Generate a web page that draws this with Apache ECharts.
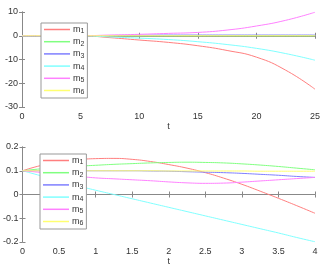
<!DOCTYPE html>
<html><head><meta charset="utf-8">
<script src="https://cdn.jsdelivr.net/npm/echarts@6/dist/echarts.min.js"></script>
<style>html,body{margin:0;padding:0;background:#fff}#c{width:329px;height:269px}</style>
</head><body><div id="c"></div>
<script>
const names = ['m1','m2','m3','m4','m5','m6'];
const colors = ['#ff7f7f','#80ff80','#7f7fff','#80ffff','#ff80ff','#ffff70'];

const tTop = [0,2.5,5,7.5,10,12.5,15,17.5,20,22.5,25];
const m1Top = [0,0,0,-0.8,-1.8,-2.8,-4.2,-6.2,-9,-14.5,-22.5];
const m2Top = [0,0,0,0,0,0,0,0,0,0,0];
const m3Top = [0,0,0,0.1,0.2,0.3,0.3,0.3,0.3,0.3,0.3];
const m4Top = [0,0,0,-0.5,-1.0,-1.6,-2.5,-3.7,-5.3,-7.5,-10.3];
const m5Top = [0,0,0,0.3,0.6,1.0,1.4,2.4,4.1,6.5,9.9];
const m6Top = [0,0,0,0,0,0,0,0,0,0,0];

const tBot = [0,0.25,0.5,0.75,1,1.25,1.5,1.75,2,2.25,2.5,2.75,3,3.25,3.5,3.75,4];
const m1Bot = [0.1,0.122,0.137,0.146,0.151,0.152,0.148,0.139,0.126,0.111,0.092,0.069,0.043,0.014,-0.016,-0.047,-0.079];
const m2Bot = [0.1,0.108,0.114,0.119,0.123,0.127,0.130,0.133,0.135,0.136,0.135,0.133,0.129,0.124,0.118,0.111,0.104];
const m3Bot = [0.1,0.1,0.1,0.1,0.1,0.1,0.1,0.099,0.098,0.096,0.094,0.092,0.089,0.085,0.081,0.076,0.072];
const m4Bot = [0.1,0.079,0.058,0.037,0.018,0.0,-0.018,-0.036,-0.054,-0.072,-0.090,-0.108,-0.126,-0.144,-0.162,-0.181,-0.199];
const m5Bot = [0.1,0.093,0.085,0.077,0.070,0.066,0.062,0.058,0.053,0.049,0.047,0.048,0.052,0.057,0.062,0.067,0.072];
const m6Bot = [0.1,0.1,0.1,0.1,0.1,0.1,0.1,0.1,0.099,0.099,0.099,0.099,0.099,0.098,0.098,0.098,0.098];

const topVals = [m1Top,m2Top,m3Top,m4Top,m5Top,m6Top];
const botVals = [m1Bot,m2Bot,m3Bot,m4Bot,m5Bot,m6Bot];

const FONT = 'Liberation Sans, Arial, sans-serif';
const lab = {color:'#333', fontSize:9, fontFamily:FONT};
const axLine = {show:true, lineStyle:{color:'#888', width:1}};
function xAx(gi, min, max, interval, pos){
  const main = pos==='bottom';
  return {type:'value', gridIndex:gi, position:pos, min:min, max:max, interval:interval,
    axisLine:axLine, axisTick:{show:true, inside:true, length:3, lineStyle:{color:'#888'}},
    axisLabel: main ? Object.assign({margin:5}, lab) : {show:false},
    splitLine:{show:false},
    name: main ? 't' : '', nameLocation:'middle', nameGap:15, nameTextStyle: lab};
}
function yAx(gi, min, max, interval, pos){
  const main = pos==='left';
  return {type:'value', gridIndex:gi, position:pos, min:min, max:max, interval:interval,
    axisLine:axLine, axisTick:{show:true, inside:true, length:3, lineStyle:{color:'#888'}},
    axisLabel: main ? Object.assign({margin:4}, lab) : {show:false},
    splitLine:{show:false}};
}
const series = [];
names.forEach((n,i)=>{
  series.push({name:n, type:'line', xAxisIndex:0, yAxisIndex:0, symbol:'none', smooth:true,
    data: tTop.map((t,k)=>[t, topVals[i][k]]), lineStyle:{width:1, color:colors[i]}, itemStyle:{color:colors[i]}});
});
names.forEach((n,i)=>{
  series.push({name:n, type:'line', xAxisIndex:2, yAxisIndex:2, symbol:'none', smooth:true,
    data: tBot.map((t,k)=>[t, botVals[i][k]]), lineStyle:{width:1, color:colors[i]}, itemStyle:{color:colors[i]}});
});
function legend(left, top){
  return {orient:'vertical', left:left, top:top,
    data:names.map((n,i)=>({name:n, icon:'rect', itemStyle:{color:colors[i], borderWidth:0, opacity:1}})),
    itemWidth:26, itemHeight:1.5, itemGap:1.2,
    padding:[1,3,2,3], borderColor:'#999', borderWidth:1, backgroundColor:'#fff',
    selectedMode:false,
    formatter: n => '{m|m}{s|' + n.slice(1) + '}',
    textStyle:{padding:[0,0,0,-2], rich:{m:{fontSize:9, lineHeight:10, color:'#333', fontFamily:FONT},
                     s:{fontSize:7, lineHeight:8, color:'#333', padding:[4,0,0,0], fontFamily:FONT}}}};
}
const chart = echarts.init(document.getElementById('c'), null, {renderer:'canvas'});
chart.setOption({
  animation:false,
  backgroundColor:'#fff',
  grid:[{left:22, top:12, width:293, height:95},{left:22, top:147, width:293, height:95}],
  xAxis:[xAx(0,0,25,5,'bottom'), xAx(0,0,25,5,'top'), xAx(1,0,4,0.5,'bottom'), xAx(1,0,4,0.5,'top')],
  yAxis:[yAx(0,-30,10,10,'left'), yAx(0,-30,10,10,'right'), yAx(1,-0.2,0.2,0.1,'left'), yAx(1,-0.2,0.2,0.1,'right')],
  legend:[legend(41,23), legend(40,154)],
  series: series
});
</script></body></html>
